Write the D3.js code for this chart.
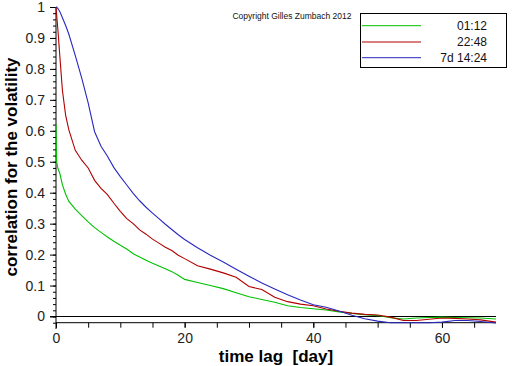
<!DOCTYPE html>
<html>
<head>
<meta charset="utf-8">
<script src="https://cdn.jsdelivr.net/npm/d3@7"></script>
<style>
  html, body { margin: 0; padding: 0; background: #fff; }
  svg { display: block; font-family: "Liberation Sans", Arial, sans-serif; }
</style>
</head>
<body>
<svg id="chart" width="512" height="366"></svg>
<script>
// ---- data ----
const lags = [0, 0.1, 0.3, 0.6, 1, 1.5, 2, 3, 4, 5, 6, 7, 8, 9, 10, 11, 12, 13, 14, 15, 16, 17, 18, 19, 20,
  22, 24, 26, 28, 30, 32, 34, 36, 38, 40, 42, 44, 46, 48, 50, 52, 54, 56, 58, 60, 62, 64, 66, 68.4];

const green0112 = [0.62, 0.5, 0.478, 0.462, 0.425, 0.395, 0.372, 0.347, 0.326, 0.306, 0.287, 0.272, 0.257, 0.243,
  0.23, 0.218, 0.203, 0.192, 0.182, 0.172, 0.163, 0.154, 0.145, 0.133, 0.12,
  0.11, 0.1, 0.09, 0.077, 0.064, 0.055, 0.046, 0.035, 0.029, 0.025, 0.021, 0.015, 0.01, 0.006, 0.003,
  -0.004, -0.008, -0.005, -0.003, -0.002, -0.003, -0.004, -0.005, -0.008];

const red2248 = [1, 0.975, 0.925, 0.84, 0.73, 0.65, 0.603, 0.537, 0.505, 0.48, 0.44, 0.414, 0.394, 0.366,
  0.34, 0.316, 0.3, 0.28, 0.266, 0.25, 0.237, 0.224, 0.213, 0.198, 0.187,
  0.164, 0.153, 0.141, 0.127, 0.097, 0.087, 0.062, 0.048, 0.04, 0.035, 0.024, 0.017, 0.011, 0.007, 0.005,
  -0.002, -0.013, -0.013, -0.009, -0.005, -0.006, -0.008, -0.011, -0.018];

const blue7d1424 = [1, 1.0, 0.995, 0.985, 0.965, 0.94, 0.912, 0.843, 0.77, 0.69, 0.597, 0.55, 0.518, 0.481,
  0.452, 0.425, 0.398, 0.374, 0.353, 0.334, 0.316, 0.298, 0.281, 0.264, 0.249,
  0.222, 0.198, 0.176, 0.153, 0.13, 0.108, 0.089, 0.07, 0.053, 0.038, 0.03, 0.018, 0.004, -0.007, -0.015,
  -0.02, -0.02, -0.02, -0.02, -0.018, -0.013, -0.013, -0.016, -0.021];

const seriesNames = ["01:12", "22:48", "7d 14:24"];
const seriesColors = ["#00c000", "#b00000", "#2828c0"];
const xTickValues = [0, 20, 40, 60];
const yTickValues = [0, 0.1, 0.2, 0.3, 0.4, 0.5, 0.6, 0.7, 0.8, 0.9, 1];
const copyrightText = "Copyright Gilles Zumbach 2012";
const xTitle = "time lag  [day]";
const yTitle = "correlation for the volatility";

// ---- chart ----
const svg = d3.select("#chart");
svg.append("rect").attr("width", 512).attr("height", 366).attr("fill", "#fff");

const x = d3.scaleLinear().domain([0, 68.4]).range([56, 496]);
const y = d3.scaleLinear().domain([-0.02, 1]).range([322.7, 7]);

// minor y ticks
svg.append("g").attr("transform", "translate(56,0)")
  .call(d3.axisLeft(y).tickValues(d3.range(-0.02, 1.001, 0.02)).tickSize(3).tickFormat(""))
  .call(g => g.select(".domain").remove())
  .call(g => g.selectAll("line").attr("stroke", "#000"));

// major y axis
const yAxis = svg.append("g").attr("transform", "translate(56,0)")
  .call(d3.axisLeft(y).tickValues(yTickValues).tickSize(6).tickPadding(5)
    .tickFormat(d => d3.format("~g")(d)).tickSizeOuter(0));
yAxis.select(".domain").remove();
yAxis.selectAll("line").attr("stroke", "#000");
yAxis.selectAll("text").attr("font-size", 14).attr("fill", "#222")
  .attr("font-family", "\"Liberation Sans\", Arial, sans-serif");
svg.append("line").attr("x1", 56).attr("x2", 56).attr("y1", y(1)).attr("y2", 329)
  .attr("stroke", "#000");

// minor x ticks
svg.append("g").attr("transform", "translate(0,322.7)")
  .call(d3.axisBottom(x).tickValues(d3.range(0, 68.4, 5)).tickSize(5).tickFormat(""))
  .call(g => g.select(".domain").remove())
  .call(g => g.selectAll("line").attr("stroke", "#000"));

const xAxis = svg.append("g").attr("transform", "translate(0,322.7)")
  .call(d3.axisBottom(x).tickValues(xTickValues).tickSize(5).tickPadding(5).tickSizeOuter(0));
xAxis.select(".domain").remove();
xAxis.selectAll("line").attr("stroke", "#000");
xAxis.selectAll("text").attr("font-size", 14).attr("fill", "#222")
  .attr("font-family", "\"Liberation Sans\", Arial, sans-serif");
svg.append("line").attr("x1", 56).attr("x2", 496).attr("y1", 322.7).attr("y2", 322.7)
  .attr("stroke", "#000");

// zero line
svg.append("line").attr("x1", 50).attr("x2", 496).attr("y1", y(0)).attr("y2", y(0))
  .attr("stroke", "#000");

// curves
const allSeries = [green0112, red2248, blue7d1424];
const line = d3.line().x((d, i) => x(lags[i])).y(d => y(d));
allSeries.forEach((vals, k) => {
  svg.append("path").datum(vals).attr("d", line)
    .attr("fill", "none").attr("stroke", seriesColors[k]).attr("stroke-width", 1.1);
});

// titles
svg.append("text").attr("x", 276).attr("y", 362).attr("text-anchor", "middle")
  .attr("font-size", 17).attr("font-weight", "bold")
  .style("white-space", "pre").attr("xml:space", "preserve").text(xTitle);
svg.append("text").attr("transform", "translate(17,167) rotate(-90)")
  .attr("text-anchor", "middle").attr("font-size", 17).attr("font-weight", "bold").text(yTitle);

// copyright
svg.append("text").attr("x", 292).attr("y", 19).attr("text-anchor", "middle")
  .attr("font-size", 8.5).attr("fill", "#111").text(copyrightText);

// legend
const lg = svg.append("g");
lg.append("rect").attr("x", 360.5).attr("y", 13.5).attr("width", 146).attr("height", 54)
  .attr("fill", "#fff").attr("stroke", "#000");
const legendY = [25.7, 42, 57.7];
seriesNames.forEach((name, k) => {
  lg.append("line").attr("x1", 362).attr("x2", 421).attr("y1", legendY[k]).attr("y2", legendY[k])
    .attr("stroke", seriesColors[k]);
  lg.append("text").attr("x", 487).attr("y", legendY[k] + 4).attr("text-anchor", "end")
    .attr("font-size", 12).attr("fill", "#111").text(name);
});
</script>
</body>
</html>
